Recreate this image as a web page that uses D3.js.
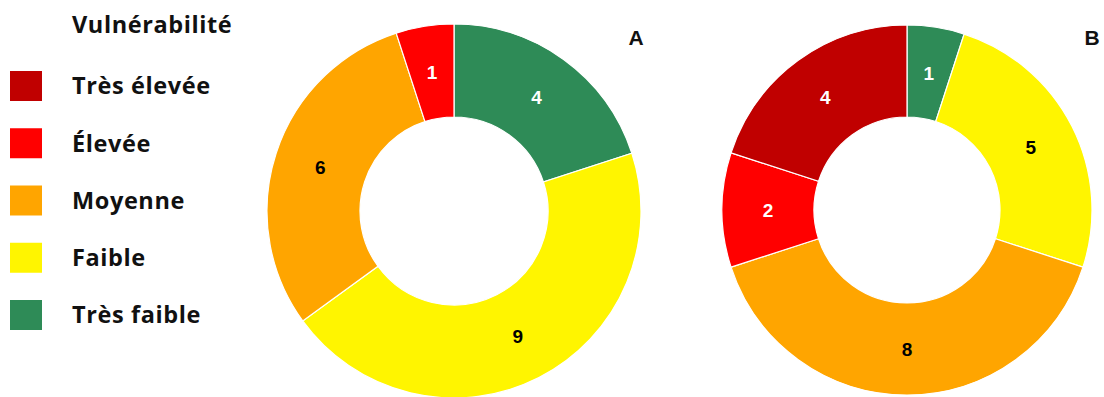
<!DOCTYPE html>
<html><head><meta charset="utf-8">
<script src="https://cdn.jsdelivr.net/npm/d3@7"></script>
<style>html,body{margin:0;padding:0;background:#fff;}</style>
</head><body>
<svg id="chart" width="1104" height="397"></svg>
<script>
const categories = ["Très faible", "Faible", "Moyenne", "Élevée", "Très élevée"];
const legendOrder = ["Très élevée", "Élevée", "Moyenne", "Faible", "Très faible"];
const colors = ["#2e8b57", "#fff500", "#ffa500", "#ff0000", "#c00000"];
const labelColors = ["#ffffff", "#000000", "#000000", "#ffffff", "#ffffff"];
const valuesA = [4, 9, 6, 1, 0];
const valuesB = [1, 5, 8, 2, 4];
const panelLabels = ["A", "B"];
const legendTitle = "Vulnérabilité";

const svg = d3.select("#chart");
const color = d3.scaleOrdinal().domain(categories).range(colors);
const txtColor = d3.scaleOrdinal().domain(categories).range(labelColors);
const legendFont = "'Open Sans', Lato, sans-serif";

// Legend
svg.append("text").attr("x", 72).attr("y", 33)
  .attr("font-family", legendFont).attr("font-weight", "bold")
  .attr("font-size", 23.5).attr("letter-spacing", 0.6).attr("fill", "#111").text(legendTitle);
const ly = d3.scalePoint().domain(legendOrder).range([86, 315]);
const lg = svg.append("g");
legendOrder.forEach(c => {
  lg.append("rect").attr("x", 10).attr("y", ly(c) - 15).attr("width", 32).attr("height", 30)
    .attr("fill", color(c));
  lg.append("text").attr("x", 72).attr("y", ly(c)).attr("dy", "0.36em")
    .attr("font-family", legendFont).attr("font-weight", "bold")
    .attr("font-size", 23.5).attr("letter-spacing", 0.6).attr("fill", "#111").text(c);
});

function donut(values, cx, cy, rOut, rIn, label, lx, ly2) {
  const data = categories.map((c, i) => ({cat: c, v: values[i]})).filter(d => d.v > 0);
  const pie = d3.pie().value(d => d.v).sort(null);
  const arc = d3.arc().innerRadius(rIn).outerRadius(rOut);
  const g = svg.append("g").attr("transform", `translate(${cx},${cy})`);
  const arcs = pie(data);
  g.selectAll("path").data(arcs).join("path")
    .attr("d", arc).attr("fill", d => color(d.data.cat))
    .attr("stroke", "#fff").attr("stroke-width", 1.2);
  g.selectAll("text").data(arcs).join("text")
    .attr("transform", d => `translate(${arc.centroid(d)})`)
    .attr("text-anchor", "middle").attr("dy", "0.36em")
    .attr("font-family", "Arial, 'Liberation Sans', sans-serif").attr("font-weight", "bold")
    .attr("font-size", 19).attr("fill", d => txtColor(d.data.cat))
    .text(d => d.data.v);
  svg.append("text").attr("x", lx).attr("y", ly2)
    .attr("text-anchor", "middle")
    .attr("font-family", "Arial, 'Liberation Sans', sans-serif").attr("font-weight", "bold")
    .attr("font-size", 21).attr("fill", "#111").text(label);
}
donut(valuesA, 454, 211, 187, 94, panelLabels[0], 636, 45);
donut(valuesB, 907, 210, 185, 93, panelLabels[1], 1092, 45);
</script>
</body></html>
